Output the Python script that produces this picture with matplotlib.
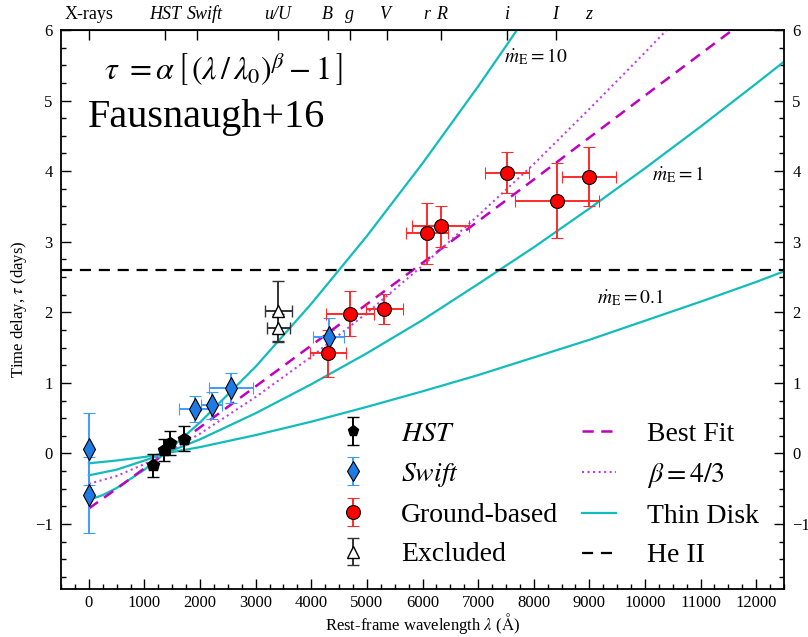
import matplotlib
matplotlib.use('Agg')
import matplotlib.pyplot as plt
import numpy as np
from matplotlib.ticker import MultipleLocator

plt.rcParams['font.family'] = ['Liberation Serif', 'DejaVu Serif']
plt.rcParams['mathtext.fontset'] = 'stix'

# measurements (rest-frame wavelength in Angstrom, lag in days)
hst_wave = [1150, 1345, 1460, 1720]
hst_tau = [-0.17, 0.05, 0.15, 0.21]
hst_err = [0.16, 0.16, 0.17, 0.18]

swift_wave = [0, 0, 1905, 2210, 2560, 4315]
swift_tau = [0.07, -0.59, 0.63, 0.68, 0.93, 1.65]
swift_err = [0.51, 0.54, 0.18, 0.19, 0.21, 0.27]
swift_werr = [0, 0, 290, 190, 395, 280]

ground_wave = [4300, 4690, 5315, 6075, 6325, 7520, 8420, 8995]
ground_tau = [1.42, 1.98, 2.05, 3.12, 3.22, 3.98, 3.58, 3.92]
ground_err = [0.33, 0.32, 0.21, 0.43, 0.29, 0.29, 0.53, 0.42]
ground_werr = [330, 430, 335, 380, 510, 400, 760, 480]

excl_wave = [3410, 3410]
excl_tau = [2.02, 1.78]
excl_err = [0.42, 0.20]
excl_werr = [250, 210]

# model curves
fit_wave = [0, 500, 1000, 1367, 2000, 3000, 4000, 6000, 8000, 10000, 12000]
fit_tau = [-0.78, -0.50, -0.21, 0.0, 0.37, 0.95, 1.53, 2.70, 3.88, 5.07, 6.25]

b43_wave = [0, 500, 1000, 1367, 2000, 3000, 4000, 5000, 6000, 7000, 8000, 9000, 10000, 11000]
b43_tau = [-0.43, -0.32, -0.15, 0.0, 0.28, 0.80, 1.37, 1.99, 2.66, 3.37, 4.10, 4.88, 5.68, 6.50]

disk_wave = [0, 500, 1000, 1367, 2000, 3000, 4000, 5000, 6000, 7000, 8000, 9000, 10000, 11000, 12000, 12500]
disk_01 = [-0.14, -0.10, -0.05, 0.0, 0.09, 0.26, 0.45, 0.66, 0.88, 1.11, 1.36, 1.61, 1.88, 2.15, 2.43, 2.58]
disk_1 = [-0.31, -0.23, -0.10, 0.0, 0.20, 0.57, 0.98, 1.42, 1.89, 2.40, 2.92, 3.47, 4.04, 4.63, 5.24, 5.55]
disk10_wave = [0, 250, 500, 1000, 1367, 2000, 3000, 4000, 5000, 6000, 7000, 7500, 8000]
disk_10 = [-0.66, -0.59, -0.49, -0.23, 0.0, 0.44, 1.23, 2.12, 3.08, 4.11, 5.20, 5.77, 6.35]

heii_tau = 2.6

band_wave = [0, 1365, 2080, 3400, 4290, 4680, 5320, 6070, 6335, 7520, 8390, 8995]
band_labels = ['X-rays', 'HST', 'Swift', 'u/U', 'B', 'g', 'V', 'r', 'R', 'i', 'I', 'z']
band_ticks = [0, 1365, 1940, 3410, 4305, 4690, 5370, 6330, 7520, 8400]

fig = plt.figure(figsize=(8.08, 6.37), dpi=100)
ax = fig.add_axes([0.0755, 0.0754, 0.8948, 0.8776])

cyan = '#12bcbc'
ax.plot(disk_wave, disk_01, color=cyan, lw=1.6, zorder=2)
ax.plot(disk_wave, disk_1, color=cyan, lw=1.6, zorder=2)
ax.plot(disk10_wave, disk_10, color=cyan, lw=1.6, zorder=2)
ax.plot(fit_wave, fit_tau, color='#c000c0', lw=1.8, dashes=(4.5, 3), zorder=2)
ax.plot(b43_wave, b43_tau, color='#c040e8', lw=1.5, ls=':', zorder=2)
ax.axhline(heii_tau, color='k', lw=1.6, dashes=(5, 3.5), zorder=2)

ax.errorbar(excl_wave, excl_tau, yerr=excl_err, xerr=excl_werr, fmt='^', ms=9,
            mfc='white', mec='black', ecolor='#333333', elinewidth=1.4, capsize=4, zorder=4)
ax.errorbar(swift_wave, swift_tau, yerr=swift_err, xerr=swift_werr, fmt='d', ms=11,
            mfc='#1e7be6', mec='black', mew=0.8, ecolor='#3f9cff', elinewidth=1.4, capsize=4, zorder=5)
ax.errorbar(hst_wave, hst_tau, yerr=hst_err, fmt='p', ms=9,
            mfc='black', mec='black', ecolor='black', elinewidth=1.4, capsize=4, zorder=5)
ax.errorbar(ground_wave, ground_tau, yerr=ground_err, xerr=ground_werr, fmt='o', ms=10,
            mfc='red', mec='black', mew=0.8, ecolor='#ff2a2a', elinewidth=1.4, capsize=4, zorder=5)

# legend proxies (vertical bars only)
h_hst = ax.errorbar([np.nan], [np.nan], yerr=[1], fmt='p', ms=8, mfc='black', mec='black',
                    ecolor='black', elinewidth=1.4, capsize=4)
h_swift = ax.errorbar([np.nan], [np.nan], yerr=[1], fmt='d', ms=10, mfc='#1e7be6', mec='black',
                      mew=0.8, ecolor='#3f9cff', elinewidth=1.4, capsize=4)
h_ground = ax.errorbar([np.nan], [np.nan], yerr=[1], fmt='o', ms=10, mfc='red', mec='black',
                       mew=0.8, ecolor='#ff2a2a', elinewidth=1.4, capsize=4)
h_excl = ax.errorbar([np.nan], [np.nan], yerr=[1], fmt='^', ms=9, mfc='white', mec='black',
                     ecolor='#333333', elinewidth=1.4, capsize=4)
h_fit, = ax.plot([], [], color='#c000c0', lw=1.8, dashes=(4.5, 3))
h_b43, = ax.plot([], [], color='#c040e8', lw=1.5, ls=':')
h_disk, = ax.plot([], [], color=cyan, lw=1.6)
h_heii, = ax.plot([], [], color='k', lw=1.6, dashes=(5, 3.5))

ax.legend([h_hst, h_swift, h_ground, h_excl, h_fit, h_b43, h_disk, h_heii],
          [r'$\mathit{HST}$', r'$\mathit{Swift}$', 'Ground-based', 'Excluded',
           'Best Fit', r'$\beta = 4/3$', 'Thin Disk', 'He II'],
          ncol=2, frameon=False, fontsize=20, loc='upper left',
          bbox_to_anchor=(0.38, 0.30), borderaxespad=0, borderpad=0,
          handlelength=1.25, handletextpad=1.1, columnspacing=0.85, labelspacing=0.5)

ax.text(0.059, 0.928, r'$\tau\ =\alpha\,\left[\,(\lambda\,/\,\lambda_0)^{\beta}-1\,\right]$',
        transform=ax.transAxes, fontsize=23, va='center', ha='left')
ax.text(0.037, 0.844, 'Fausnaugh+16', transform=ax.transAxes, fontsize=29, va='center', ha='left')
ax.text(7470, 5.62, r'$\dot{m}_{\rm E} = 10$', fontsize=14, va='center', ha='left')
ax.text(10125, 3.95, r'$\dot{m}_{\rm E} = 1$', fontsize=14, va='center', ha='left')
ax.text(9140, 2.21, r'$\dot{m}_{\rm E} = 0.1$', fontsize=14, va='center', ha='left')

for w, lab in zip(band_wave, band_labels):
    ax.text(w, 1.012, lab, transform=ax.get_xaxis_transform(), fontsize=13,
            ha='center', va='bottom', style='normal' if lab == 'X-rays' else 'italic')

ax.set_xlim(-500, 12500)
ax.set_ylim(-1.92, 6)
ax.xaxis.set_major_locator(MultipleLocator(1000))
ax.xaxis.set_minor_locator(MultipleLocator(250))
ax.yaxis.set_major_locator(MultipleLocator(1))
ax.yaxis.set_minor_locator(MultipleLocator(0.25))
ax.tick_params(which='both', direction='in', top=False, right=True, labelright=True, labelsize=12, pad=6)
ax.tick_params(axis='x', which='both', pad=4)
ax.tick_params(which='major', length=7, width=1)
ax.tick_params(which='minor', length=3.5, width=1)

top = ax.secondary_xaxis('top')
top.set_xticks(band_ticks)
top.set_xticklabels([])
top.tick_params(direction='in', length=7, width=1)

for s in ax.spines.values():
    s.set_linewidth(1.3)

ax.set_xlabel(r'Rest-frame wavelength $\lambda$ ($\mathrm{\AA}$)', fontsize=12, labelpad=0)
ax.set_ylabel(r'Time delay, $\tau$ (days)', fontsize=12, labelpad=4)

plt.savefig('out.png', dpi=100)
